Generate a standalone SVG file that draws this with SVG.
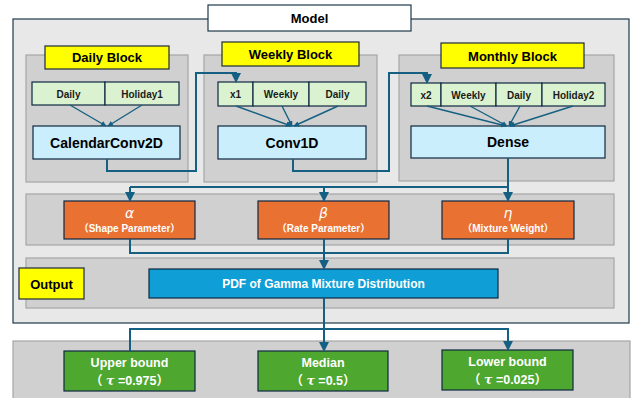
<svg xmlns="http://www.w3.org/2000/svg" width="632" height="398" viewBox="0 0 632 398">
<defs>
<style>
text{font-family:"Liberation Sans","Noto Sans CJK JP",Arial,sans-serif;font-weight:bold;text-anchor:middle;}
.outer{fill:#e8e8e8;stroke:#1e3a4c;stroke-width:1.2;}
.band{fill:#d0d0d0;stroke:#a6a6a6;stroke-width:1.2;}
.yel{fill:#ffff00;stroke:#1e2a36;stroke-width:1.2;}
.inp{fill:#daf2d0;stroke:#0e2841;stroke-width:1.2;}
.layer{fill:#caeefb;stroke:#0e2841;stroke-width:1.2;}
.org{fill:#e97132;stroke:#0e2841;stroke-width:1.2;}
.pdf{fill:#0f9ed5;stroke:#0e2841;stroke-width:1.2;}
.grn{fill:#4ea72e;stroke:#0e2841;stroke-width:1.2;}
.conn{fill:none;stroke:#156082;stroke-width:2;}
.thin{fill:none;stroke:#156082;stroke-width:1.4;}
.t13{font-size:13px;fill:#000;}
.t10{font-size:10px;fill:#1a1a1a;}
.t14{font-size:14px;fill:#000;}
.w{fill:#fff;}
.gk{font-family:"DejaVu Sans",sans-serif;font-style:italic;font-weight:normal;font-size:14px;}
.sub{font-size:10px;}
.g12{font-size:12.5px;}
</style>
<marker id="ah" viewBox="0 0 10 10" refX="9" refY="5" markerWidth="4" markerHeight="4" orient="auto"><path d="M0,0 L10,5 L0,10 z" fill="#156082"/></marker>
<marker id="ah2" viewBox="0 0 10 10" refX="9" refY="5" markerWidth="5" markerHeight="5" orient="auto"><path d="M0,0 L10,5 L0,10 z" fill="#156082"/></marker>
</defs>

<g id="model">
<rect class="outer" x="13" y="19" width="616" height="304"/>
<rect x="208" y="5" width="203" height="26" fill="#fff" stroke="#1e3a4c" stroke-width="1.2"/>
<text class="t13" x="309.5" y="23">Model</text>
</g>

<g id="daily-block">
<rect class="band" x="26" y="55" width="162" height="127"/>
<rect class="yel" x="45" y="46" width="124" height="23"/>
<text class="t13" x="107" y="62">Daily Block</text>
</g>
<g id="weekly-block">
<rect class="band" x="204" y="55" width="173" height="127"/>
<rect class="yel" x="222" y="42" width="137" height="24"/>
<text class="t13" x="290.5" y="59">Weekly Block</text>
</g>
<g id="monthly-block">
<rect class="band" x="399" y="55" width="215" height="126"/>
<rect class="yel" x="441" y="43" width="143" height="25"/>
<text class="t13" x="512.5" y="61">Monthly Block</text>
</g>

<g id="in-daily1"><rect class="inp" x="32" y="82" width="73" height="23"/><text class="t10" x="68.5" y="97.5">Daily</text></g>
<g id="in-holiday1"><rect class="inp" x="105" y="82" width="74" height="23"/><text class="t10" x="142" y="97.5">Holiday1</text></g>
<g id="calconv"><rect class="layer" x="33" y="126" width="147" height="33"/><text class="t14" x="106.5" y="147.5">CalendarConv2D</text></g>

<g id="in-x1"><rect class="inp" x="218" y="82" width="35" height="24"/><text class="t10" x="235.5" y="98">x1</text></g>
<g id="in-weekly1"><rect class="inp" x="253" y="82" width="56" height="24"/><text class="t10" x="281" y="98">Weekly</text></g>
<g id="in-daily2"><rect class="inp" x="309" y="82" width="57" height="24"/><text class="t10" x="337.5" y="98">Daily</text></g>
<g id="conv1d"><rect class="layer" x="218" y="126" width="148" height="33"/><text class="t14" x="292" y="147.5">Conv1D</text></g>

<g id="in-x2"><rect class="inp" x="411" y="83" width="30" height="23"/><text class="t10" x="426" y="98.5">x2</text></g>
<g id="in-weekly2"><rect class="inp" x="441" y="83" width="55" height="23"/><text class="t10" x="468.5" y="98.5">Weekly</text></g>
<g id="in-daily3"><rect class="inp" x="496" y="83" width="46" height="23"/><text class="t10" x="519" y="98.5">Daily</text></g>
<g id="in-holiday2"><rect class="inp" x="542" y="83" width="63" height="23"/><text class="t10" x="573.5" y="98.5">Holiday2</text></g>
<g id="dense"><rect class="layer" x="411" y="126" width="194" height="32"/><text class="t14" x="508" y="147">Dense</text></g>

<g id="param-band"><rect class="band" x="26" y="194" width="588" height="51"/></g>
<g id="alpha"><rect class="org" x="64" y="201" width="131" height="38"/>
<text class="w gk" x="129.5" y="218">α</text>
<text class="w sub" x="129.5" y="232">（Shape Parameter）</text></g>
<g id="beta"><rect class="org" x="258" y="201" width="131" height="38"/>
<text class="w gk" x="323.5" y="218">β</text>
<text class="w sub" x="323.5" y="232">（Rate Parameter）</text></g>
<g id="eta"><rect class="org" x="442" y="201" width="132" height="38"/>
<text class="w gk" x="508" y="218">η</text>
<text class="w sub" x="508" y="232">（Mixture Weight）</text></g>

<g id="output-band"><rect class="band" x="26" y="258" width="588" height="50"/>
<rect class="yel" x="19" y="268" width="65" height="31"/>
<text class="t13" x="51.5" y="288.5">Output</text></g>
<g id="pdf"><rect class="pdf" x="149" y="269" width="349" height="29"/>
<text class="w" x="323.5" y="288" font-size="12">PDF of Gamma Mixture Distribution</text></g>

<g id="result-band"><rect class="band" x="13" y="341" width="617" height="62"/></g>
<g id="upper"><rect class="grn" x="64" y="351" width="131" height="40"/>
<text class="w g12" x="129.5" y="367">Upper bound</text>
<text class="w g12" x="129.5" y="385">（ <tspan font-style="italic" font-family="'DejaVu Serif',serif">τ</tspan> =0.975）</text></g>
<g id="median"><rect class="grn" x="258" y="351" width="130" height="40"/>
<text class="w g12" x="323" y="367">Median</text>
<text class="w g12" x="323" y="385">（ <tspan font-style="italic" font-family="'DejaVu Serif',serif">τ</tspan> =0.5）</text></g>
<g id="lower"><rect class="grn" x="442" y="350" width="131" height="40"/>
<text class="w g12" x="507.5" y="366">Lower bound</text>
<text class="w g12" x="507.5" y="384">（ <tspan font-style="italic" font-family="'DejaVu Serif',serif">τ</tspan> =0.025）</text></g>

<g id="connectors">
<line class="thin" x1="70" y1="105" x2="106" y2="126" marker-end="url(#ah)"/>
<line class="thin" x1="142" y1="105" x2="108" y2="126" marker-end="url(#ah)"/>
<line class="thin" x1="236" y1="106" x2="291" y2="126" marker-end="url(#ah)"/>
<line class="thin" x1="282" y1="106" x2="292" y2="126" marker-end="url(#ah)"/>
<line class="thin" x1="338" y1="106" x2="294" y2="126" marker-end="url(#ah)"/>
<line class="thin" x1="427" y1="106" x2="506" y2="126" marker-end="url(#ah)"/>
<line class="thin" x1="470" y1="106" x2="507" y2="126" marker-end="url(#ah)"/>
<line class="thin" x1="520" y1="106" x2="509" y2="126" marker-end="url(#ah)"/>
<line class="thin" x1="573" y1="106" x2="510" y2="126" marker-end="url(#ah)"/>
<path class="conn" d="M107,159 V171 H196 V73 H236 V82" marker-end="url(#ah2)"/>
<path class="conn" d="M293,159 V171 H389 V73 H427 V83" marker-end="url(#ah2)"/>
<path class="conn" d="M508,158 V201" marker-end="url(#ah2)"/>
<path class="conn" d="M130,187 H508"/>
<path class="conn" d="M130,187 V201" marker-end="url(#ah2)"/>
<path class="conn" d="M324,187 V201" marker-end="url(#ah2)"/>
<path class="conn" d="M130,239 V253 H508 V239"/>
<path class="conn" d="M324,239 V269" marker-end="url(#ah2)"/>
<path class="conn" d="M324,298 V351" marker-end="url(#ah2)"/>
<path class="conn" d="M130,351 V329 H508 V350" marker-end="url(#ah2)"/>
</g>
</svg>
